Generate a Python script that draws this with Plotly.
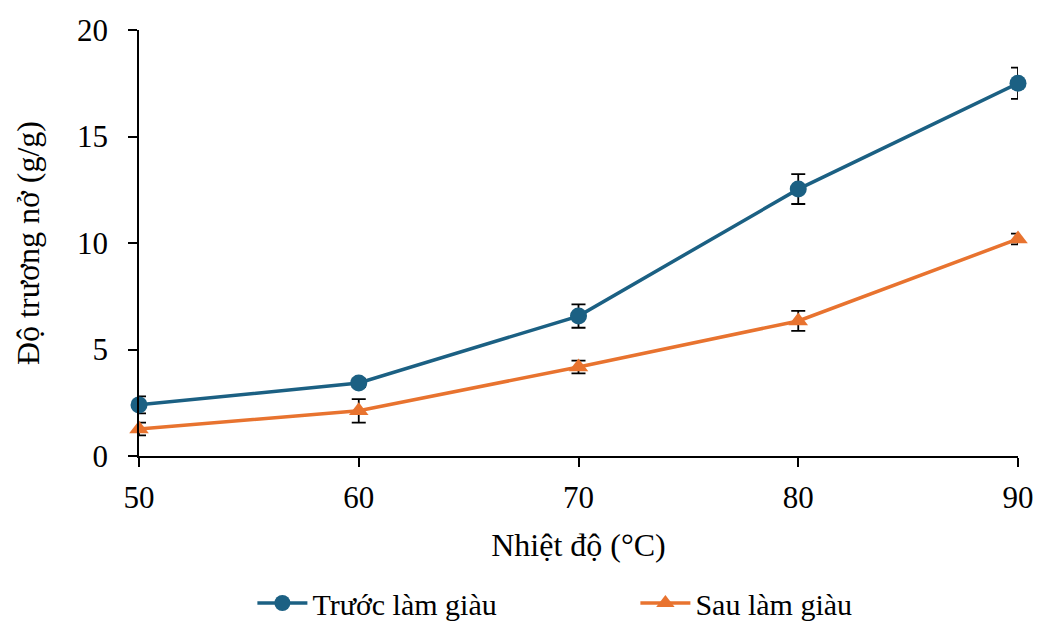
import plotly.graph_objects as go

temps = [50, 60, 70, 80, 90]
truoc = [2.4, 3.43, 6.57, 12.53, 17.5]
truoc_err = [0.4, 0.2, 0.55, 0.7, 0.73]
sau = [1.27, 2.12, 4.18, 6.34, 10.19]
sau_err = [0.3, 0.55, 0.3, 0.47, 0.25]

BLUE = "#1B6083"
ORANGE = "#E8732F"
FONT = "Liberation Serif"

fig = go.Figure()
fig.add_trace(go.Scatter(
    x=temps, y=truoc, name="Trước làm giàu", mode="lines+markers",
    line=dict(color=BLUE, width=3.5),
    marker=dict(symbol="circle", size=17, color=BLUE),
    error_y=dict(type="data", array=truoc_err, color="black", thickness=1.8, width=7),
    cliponaxis=False,
))
fig.add_trace(go.Scatter(
    x=temps, y=sau, name="Sau làm giàu", mode="lines+markers",
    line=dict(color=ORANGE, width=3.5),
    marker=dict(symbol="triangle-up", size=17, color=ORANGE),
    error_y=dict(type="data", array=sau_err, color="black", thickness=1.8, width=7),
    cliponaxis=False,
))

fig.update_layout(
    width=1052, height=628,
    margin=dict(l=131, r=42, t=22, b=180, autoexpand=False),
    plot_bgcolor="white", paper_bgcolor="white",
    font=dict(family=FONT, size=30, color="black"),
    showlegend=True,
    legend=dict(orientation="h", x=0.129, xanchor="left", y=-0.345, yanchor="middle",
                font=dict(size=30), itemwidth=50, tracegroupgap=0,
                entrywidth=318),
    xaxis=dict(
        range=[50, 90], tickvals=temps, showgrid=False, zeroline=False,
        showline=True, linecolor="black", linewidth=1.5,
        ticks="outside", ticklen=9, tickcolor="black", tickwidth=1.5,
        ticklabelstandoff=4,
        title=dict(text="Nhiệt độ (°C)", font=dict(size=32), standoff=20),
        tickfont=dict(size=31),
    ),
    yaxis=dict(
        range=[0, 20], tickvals=[0, 5, 10, 15, 20], showgrid=False, zeroline=False,
        showline=True, linecolor="black", linewidth=1.5,
        ticks="outside", ticklen=9, tickcolor="black", tickwidth=1.5,
        ticklabelstandoff=14,
        title=dict(text="Độ trương nở (g/g)", font=dict(size=32), standoff=28),
        tickfont=dict(size=31),
    ),
)

fig.write_html("out.html")
